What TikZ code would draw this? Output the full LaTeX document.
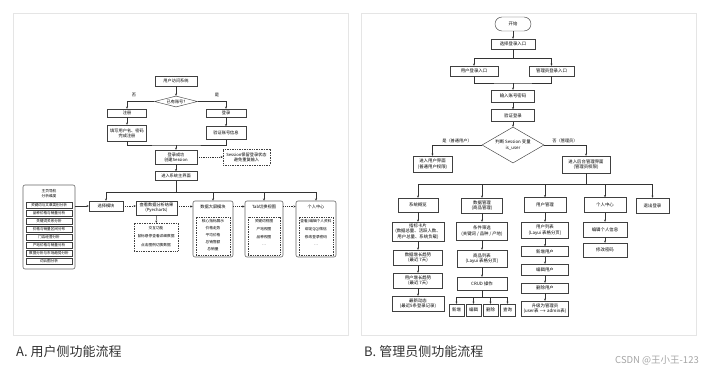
\documentclass[tikz,border=0pt]{standalone}
\usepackage{fontspec}
\setmainfont{Noto Sans CJK SC}
\usetikzlibrary{shapes.geometric,arrows.meta}
\begin{document}
\begin{tikzpicture}[x=1pt,y=-1pt,
  ln/.style={draw=black!80,line width=0.4pt},
  arr/.style={ln,-{Stealth[length=2.2pt,width=2pt]}},
  darr/.style={arr,dash pattern=on 1pt off 0.8pt},
  bx/.style={draw=black!75,line width=0.45pt,fill=white,rectangle,inner sep=0.3pt,align=center,font=\fontsize{4.2}{5}\selectfont},
  rbx/.style={bx,font=\fontsize{4.4}{5.4}\selectfont},
  dbx/.style={bx,dash pattern=on 1pt off 0.7pt},
  mod/.style={bx,rounded corners=2pt,draw=black!60,line width=0.6pt},
  itm/.style={bx,font=\fontsize{3.6}{4.2}\selectfont},
  txt/.style={inner sep=0pt,align=center,font=\fontsize{3.7}{4.4}\selectfont},
  lab/.style={inner sep=0pt,font=\fontsize{4.2}{5}\selectfont},
  panel/.style={draw=black!10,line width=0.7pt,fill=white}
]
\useasboundingbox[fill=white] (0,0) rectangle (708,372);
\path[panel] (13,13) rectangle (348,335);
\path[panel] (361,13) rectangle (696,335);

% ---------------- Panel A ----------------
\node[bx,minimum width=42,minimum height=10] (a1) at (176,81) {用户访问系统};
\node[bx,diamond,aspect=3.9,minimum width=43,minimum height=11,inner sep=0pt] (a2) at (176,101.5) {已有账号?};
\node[bx,minimum width=39,minimum height=8] (a3) at (127,113) {注册};
\node[bx,minimum width=40,minimum height=8] (a4) at (226,113) {登录};
\node[bx,minimum width=39,minimum height=16] (a5) at (127,133) {填写用户名、密码\\完成注册};
\node[bx,minimum width=40,minimum height=13] (a6) at (226,133) {验证账号信息};
\coordinate (j1) at (176,145);
\node[bx,minimum width=42,minimum height=14] (a7) at (176,157) {登录成功\\创建Session};
\node[dbx,minimum width=47,minimum height=16] (a8) at (246.5,157) {Session保留登录状态\\避免重复输入};
\node[bx,minimum width=42,minimum height=9] (a9) at (176,176) {进入系统主界面};
\coordinate (j2) at (176,192);
\node[lab] (lno) at (134,95) {否};
\node[lab] (lyes) at (217,95) {是};

\node[mod,minimum width=52,minimum height=84] (nav) at (49,227) {};
\node[txt] (navt) at (49,193.5) {主页导航\\分析维度};
\node[itm,minimum width=46,minimum height=6.5] (nav1) at (49,205) {关键词与文章类别分析};
\node[itm,minimum width=46,minimum height=6.5] (nav2) at (49,213) {品种价格与销量分析};
\node[itm,minimum width=46,minimum height=6.5] (nav3) at (49,221) {关键词关系分析};
\node[itm,minimum width=46,minimum height=6.5] (nav4) at (49,229) {价格与销量区间分布};
\node[itm,minimum width=46,minimum height=6.5] (nav5) at (49,237) {门店经营分析};
\node[itm,minimum width=46,minimum height=6.5] (nav6) at (49,245) {产地价格与销量分析};
\node[itm,minimum width=46,minimum height=6.5] (nav7) at (49,253) {数据分析与市场趋势分析};
\node[itm,minimum width=46,minimum height=6.5] (nav8) at (49,261) {词云图分析};

\node[bx,minimum width=34,minimum height=10] (sel) at (106,206) {选择模块};
\node[bx,minimum width=41,minimum height=14] (view) at (156.5,208) {查看数据分析结果\\(Pyecharts)};
\node[dbx,minimum width=44,minimum height=28] (viewn) at (156,237) {};
\node[txt] (vn1) at (156,228) {交互功能};
\node[txt] (vn2) at (156,236.5) {鼠标悬停查看详细数据};
\node[txt] (vn3) at (156,245) {点击图例切换数据};

% modules
\node[mod,minimum width=40,minimum height=56] (m2) at (213,229) {};
\node[txt,font=\fontsize{4.2}{5}\selectfont] (m2t) at (213,206.5) {数据大屏模块};
\node[dbx,minimum width=34,minimum height=38] (m2in) at (213,236) {};
\node[txt] (m2i1) at (213,221) {核心指标展示};
\node[txt] (m2i2) at (213,228) {价格走势};
\node[txt] (m2i3) at (213,235) {平均价格};
\node[txt] (m2i4) at (213,242) {总销售额};
\node[txt] (m2i5) at (213,249) {总销量};

\node[mod,minimum width=38,minimum height=56] (m3) at (264,229) {};
\node[txt,font=\fontsize{4.2}{5}\selectfont] (m3t) at (264,206.5) {Tab切换视图};
\node[dbx,minimum width=32,minimum height=38] (m3in) at (264,236) {};
\node[txt] (m3i1) at (264,221) {关键词视图};
\node[txt] (m3i2) at (264,229) {产地视图};
\node[txt] (m3i3) at (264,237) {品种视图};
\node[txt] (m3i4) at (264,245) {\ldots};

\node[mod,minimum width=40,minimum height=56] (m4) at (316,229) {};
\node[txt,font=\fontsize{4.2}{5}\selectfont] (m4t) at (316,206.5) {个人中心};
\node[dbx,minimum width=34,minimum height=38] (m4in) at (316,236) {};
\node[txt] (m4i1) at (316,221) {查看/编辑个人资料};
\node[txt] (m4i2) at (316,229) {绑定QQ/微信};
\node[txt] (m4i3) at (316,237) {修改登录密码};
\node[txt] (m4i4) at (316,245) {\ldots};

\draw[arr] (a1) -- (a2);
\draw[arr] (a2.west) -| (a3.north);
\draw[arr] (a2.east) -| (a4.north);
\draw[arr] (a3) -- (a5);
\draw[arr] (a4) -- (a6);
\draw[ln] (a5.south) |- (j1) -| (a6.south);
\draw[arr] (j1) -- (a7);
\draw[darr] (a7) -- (a8);
\draw[arr] (a7) -- (a9);
\draw[ln] (a9) -- (j2);
\draw[arr] (j2) -| (sel.north);
\draw[arr] (j2) -| (m2.north);
\draw[arr] (j2) -| (m3.north);
\draw[arr] (j2) -| (m4.north);
\draw[arr] (sel.west -| nav.east) -- (sel.west);
\draw[darr] (sel.east) -- (sel.east -| view.west);
\draw[arr] (view) -- (viewn);
\draw[darr] (m2t -| view.east) -- (m2t -| m2.west);
\draw[darr] (m2t -| m2.east) -- (m2t -| m3.west);
\draw[darr] (m2t -| m3.east) -- (m2t -| m4.west);

% ---------------- Panel B ----------------
\node[rbx,rounded corners=7pt,minimum width=36,minimum height=14] (b0) at (513,24) {开始};
\node[rbx,minimum width=44,minimum height=10] (b1) at (513,44) {选择登录入口};
\coordinate (j3) at (513,58);
\node[rbx,minimum width=48,minimum height=10] (b2) at (474,71) {用户登录入口};
\node[rbx,minimum width=45,minimum height=10] (b3) at (551.5,71) {管理员登录入口};
\coordinate (j4) at (513,83);
\node[rbx,minimum width=43,minimum height=12] (b4) at (513,96) {输入账号密码};
\node[rbx,minimum width=43,minimum height=12] (b5) at (513,115.5) {验证登录};
\node[rbx,diamond,aspect=1.72,minimum width=62,minimum height=36,inner sep=0pt] (d2) at (513,145) {判断 Session 变量\\is\_user};
\node[rbx,minimum width=39,minimum height=16] (ue) at (432.5,164) {进入用户界面\\(普通用户权限)};
\node[rbx,minimum width=48,minimum height=17] (ae) at (586,164.5) {进入后台管理界面\\(管理员权限)};
\node[lab] (lb1) at (457,141) {是（普通用户）};
\node[lab] (lb2) at (565,141) {否（管理员）};
\coordinate (j5) at (586,184);

\node[rbx,minimum width=40,minimum height=14] (c1) at (418,205) {系统概览};
\node[rbx,minimum width=52,minimum height=19] (c1a) at (418,231.5) {指标卡片\\(数据总量、活跃人数、\\用户总量、系统负载)};
\node[rbx,minimum width=49,minimum height=15] (c1b) at (418,257.5) {数据增长趋势\\(最近 7天)};
\node[rbx,minimum width=49,minimum height=15] (c1c) at (418,280.5) {用户增长趋势\\(最近 7天)};
\node[rbx,minimum width=52,minimum height=15] (c1d) at (418,303.5) {最新动态\\(最近5条登录记录)};

\node[rbx,minimum width=41,minimum height=15] (c2) at (482,205.5) {数据管理\\(商品管理)};
\node[rbx,minimum width=51,minimum height=18] (c2a) at (482,231) {条件筛选\\(关键词 / 品种 / 产地)};
\node[rbx,minimum width=50,minimum height=17] (c2b) at (482,258.5) {商品列表\\(Layui 表格分页)};
\node[rbx,minimum width=50,minimum height=13] (c2c) at (482,283.5) {CRUD 操作};
\coordinate (j6) at (482,297);
\node[rbx,minimum width=15,minimum height=12] (o1) at (456.5,310) {新增};
\node[rbx,minimum width=15,minimum height=12] (o2) at (473.5,310) {编辑};
\node[rbx,minimum width=15,minimum height=12] (o3) at (490.5,310) {删除};
\node[rbx,minimum width=15,minimum height=12] (o4) at (507.5,310) {查询};

\node[rbx,minimum width=42,minimum height=15] (c3) at (545,205) {用户管理};
\node[rbx,minimum width=47,minimum height=16] (c3a) at (545,230) {用户列表\\(Layui 表格分页)};
\node[rbx,minimum width=47,minimum height=10] (c3b) at (545,251.5) {新增用户};
\node[rbx,minimum width=47,minimum height=11] (c3c) at (545,269.5) {编辑用户};
\node[rbx,minimum width=47,minimum height=10] (c3d) at (545,288) {删除用户};
\node[rbx,minimum width=47,minimum height=15] (c3e) at (545,308.5) {升级为管理员\\(user表 $\rightarrow$ admin表)};

\node[rbx,minimum width=42,minimum height=15] (c4) at (605,205) {个人中心};
\node[rbx,minimum width=44,minimum height=15] (c4a) at (605,229.5) {编辑个人信息};
\node[rbx,minimum width=44,minimum height=14] (c4b) at (605,250) {修改密码};

\node[rbx,minimum width=33,minimum height=15] (c5) at (652.5,205.5) {退出登录};

\draw[arr] (b0) -- (b1);
\draw[ln] (b1) -- (j3);
\draw[arr] (j3) -| (b2.north);
\draw[arr] (j3) -| (b3.north);
\draw[ln] (b2.south) |- (j4) -| (b3.south);
\draw[arr] (j4) -- (b4);
\draw[arr] (b4) -- (b5);
\draw[arr] (b5) -- (d2);
\draw[arr] (d2.west) -| (ue.north);
\draw[arr] (d2.east) -| (ae.north);
\draw[ln] (ae) -- (j5);
\draw[arr] (j5) -| (c1.north);
\draw[arr] (j5) -| (c2.north);
\draw[arr] (j5) -| (c3.north);
\draw[arr] (j5) -| (c4.north);
\draw[arr] (j5) -| (c5.north);
\draw[arr] (c1) -- (c1a); \draw[arr] (c1a) -- (c1b); \draw[arr] (c1b) -- (c1c); \draw[arr] (c1c) -- (c1d);
\draw[arr] (c2) -- (c2a); \draw[arr] (c2a) -- (c2b); \draw[arr] (c2b) -- (c2c);
\draw[ln] (c2c) -- (j6);
\draw[arr] (j6) -| (o1.north);
\draw[arr] (j6) -| (o2.north);
\draw[arr] (j6) -| (o3.north);
\draw[arr] (j6) -| (o4.north);
\draw[arr] (c3) -- (c3a); \draw[arr] (c3a) -- (c3b); \draw[arr] (c3b) -- (c3c); \draw[arr] (c3c) -- (c3d); \draw[arr] (c3d) -- (c3e);
\draw[arr] (c4) -- (c4a); \draw[arr] (c4a) -- (c4b);

% captions
\node[anchor=west,inner sep=0pt,font=\fontsize{13}{15}\selectfont,text=black!80] (capA) at (16,352) {A. 用户侧功能流程};
\node[anchor=west,inner sep=0pt,font=\fontsize{13}{15}\selectfont,text=black!80] (capB) at (364,352) {B. 管理员侧功能流程};
\node[anchor=east,inner sep=0pt,font=\fontsize{9.5}{11}\selectfont,text=black!35] (wm) at (699,360) {CSDN @王小王-123};
\end{tikzpicture}
\end{document}
